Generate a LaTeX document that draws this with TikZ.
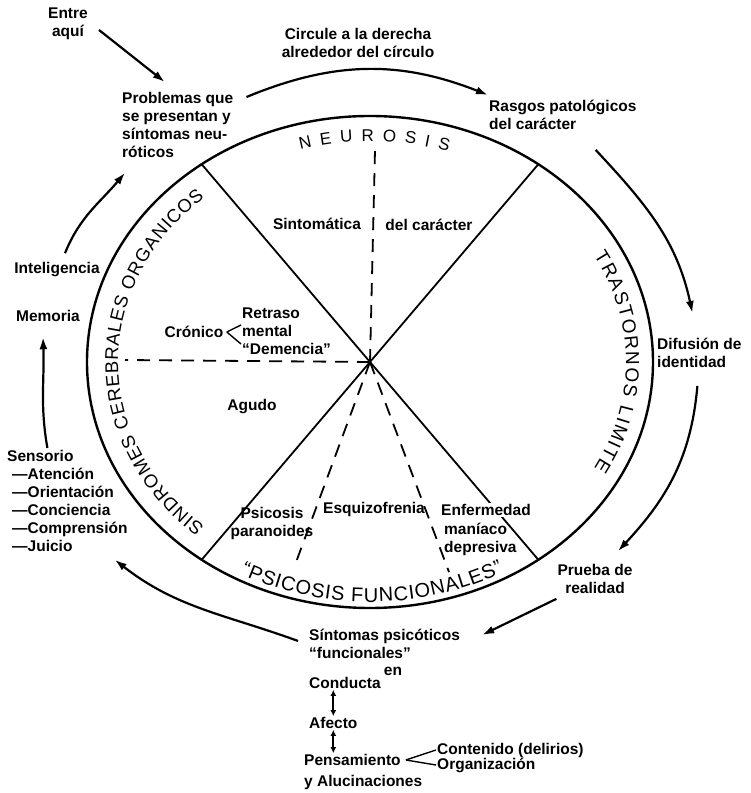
\documentclass[tikz,border=0pt]{standalone}
\usepackage{fontspec}
\setmainfont{Liberation Sans}
\usetikzlibrary{arrows.meta,decorations.text}

\begin{document}
\begin{tikzpicture}[
    x=1pt, y=1pt,
    font=\fontsize{15.5}{18}\selectfont\bfseries,
    lbl/.style={align=left, inner sep=1pt},
    ctr/.style={align=center, inner sep=1pt},
    fl/.style={-{Latex[length=12pt,width=8pt]}, line width=2.2pt},
    ud/.style={{Latex[length=6pt,width=6pt]}-{Latex[length=6pt,width=6pt]}, line width=1.8pt},
    spoke/.style={line width=1.8pt},
    dsh/.style={line width=1.8pt, dash pattern=on 13pt off 9pt},
    brc/.style={line width=1.4pt},
    arctext/.style={decorate, decoration={text along path, text align={fit to path}, text={#1}}},
]
    \useasboundingbox (0,0) rectangle (751,793);
    \coordinate (c) at (370,431);

    % the circle and its sectors
    \draw[line width=2.4pt] (c) ellipse [x radius=283, y radius=246];
    \path (c) ++(126.5:283 and 246) coordinate (nw)
          (c) ++(53.5:283 and 246) coordinate (ne)
          (c) ++(233.5:283 and 246) coordinate (sw)
          (c) ++(306.5:283 and 246) coordinate (se);
    \draw[spoke] (nw) -- (c) -- (se);
    \draw[spoke] (ne) -- (c) -- (sw);

    \coordinate (dn) at (375,643);
    \coordinate (dw) at (125,433);
    \coordinate (dsl) at (295,228);
    \coordinate (dsr) at (449,221);
    \draw[dsh] (c) -- (dn);
    \draw[dsh] (c) -- (dw);
    \draw[dsh] (c) -- (dsl);
    \draw[dsh] (c) -- (dsr);

    % names of the sectors
    \path[arctext={|\fontsize{17}{17}\selectfont|NEUROSIS}]
        (c) ++(106:253 and 221) arc[start angle=106, end angle=72, x radius=253, y radius=221];
    \path[arctext={|\fontsize{19}{19}\selectfont|TRASTORNOS LIMITE}]
        (c) ++(29:256 and 219) arc[start angle=29, end angle=-29, x radius=256, y radius=219];
    \path[arctext={|\fontsize{18.5}{18.5}\selectfont|SINDROMES CEREBRALES ORGANICOS}]
        (c) ++(229:252 and 218) arc[start angle=229, end angle=131, x radius=252, y radius=218];
    \path[arctext={|\fontsize{20}{20}\selectfont|“PSICOSIS FUNCIONALES”}]
        (c) ++(242:276 and 240) arc[start angle=242, end angle=299, x radius=276, y radius=240];

    % inside the circle
    \node (sinto) at (317,569) {Sintomática};
    \node (delc) at (429,568) {del carácter};
    \node (cron) at (194,461) {Crónico};
    \node[lbl, anchor=west] (retr) at (241,462) {Retraso\\mental\\“Demencia”};
    \node (agudo) at (252,386) {Agudo};
    \node[ctr] (psic) at (272,270) {Psicosis\\paranoides};
    \node (esq) at (374,284) {Esquizofrenia};
    \node[lbl, anchor=north west, fill=white] (enf) at (440,290) {Enfermedad};
    \node[lbl, anchor=north west] (mani) at (443,271) {maníaco\\depresiva};
    \draw[brc] (cron.east) -- ([yshift=6]retr.west);
    \draw[brc] (cron.east) -- ([yshift=-13]retr.west);

    % round the circle
    \node[ctr] (entre) at (68,769) {Entre\\aquí};
    \node[ctr] (circ) at (358,750) {Circule a la derecha\\alrededor del círculo};
    \node[lbl, anchor=north west] (prob) at (121,702) {Problemas que\\se presentan y\\síntomas neu-\\róticos};
    \node[lbl, anchor=north west] (rasgos) at (488,694) {Rasgos patológicos\\del carácter};
    \node[lbl, anchor=north west] (dif) at (656,456) {Difusión de\\identidad};
    \node[ctr] (prueba) at (595,214) {Prueba de\\realidad};
    \node[lbl, anchor=north west] (sint) at (308,165) {Síntomas psicóticos\\“funcionales”};
    \node[lbl, anchor=north west] (sens) at (6,344)
        {Sensorio\\\hspace{5pt}—Atención\\\hspace{5pt}—Orientación\\\hspace{5pt}—Conciencia\\\hspace{5pt}—Comprensión\\\hspace{5pt}—Juicio};
    \node (mem) at (48,477) {Memoria};
    \node (intel) at (57,523) {Inteligencia};

    \draw[fl] ([xshift=10,yshift=-6]entre.east) -- ([xshift=-13,yshift=9]prob.north);
    \draw[fl] ([xshift=12,yshift=-6]prob.north east) to[bend left=22] ([yshift=4]rasgos.north west);
    \draw[fl] ([xshift=-42,yshift=-19]rasgos.south east) to[out=-47, in=102] ([xshift=-7,yshift=24]dif.north);
    \draw[fl] ([xshift=-2,yshift=-17]dif.south) to[out=-95, in=47] ([xshift=23,yshift=12]prueba.north);
    \draw[fl] ([yshift=-4]prueba.south west) -- ([xshift=21,yshift=-7]sint.north east);
    \draw[fl] ([xshift=-10,yshift=3]sint.west) to[out=160, in=-38] ([xshift=-14,yshift=-7]sens.south east);
    \draw[fl] ([xshift=-20,yshift=1]sens.north) to[out=100, in=-88] ([xshift=-5,yshift=-12]mem.south);
    \draw[fl] ([xshift=8,yshift=6]intel.north) to[out=68, in=-130] ([xshift=4,yshift=-14]prob.south west);

    % below
    \node (en) at (393,122) {en};
    \node[lbl, anchor=west] (cond) at (308,110) {Conducta};
    \node[lbl, anchor=west] (afec) at (308,70) {Afecto};
    \node[lbl, anchor=west] (pens) at (303,33) {Pensamiento};
    \node[lbl, anchor=west] (cont) at (436,43) {Contenido (delirios)};
    \node[lbl, anchor=west] (org) at (436,28) {Organización};
    \node[lbl, anchor=west] (aluc) at (303,11) {y Alucinaciones};
    \draw[ud] (afec.north |- cond.south) -- (afec.north);
    \draw[ud] (afec.south) -- (afec.south |- pens.north);
    \draw[brc] ([xshift=4]pens.east) -- (cont.west);
    \draw[brc] ([xshift=4]pens.east) -- (org.west);
\end{tikzpicture}
\end{document}
